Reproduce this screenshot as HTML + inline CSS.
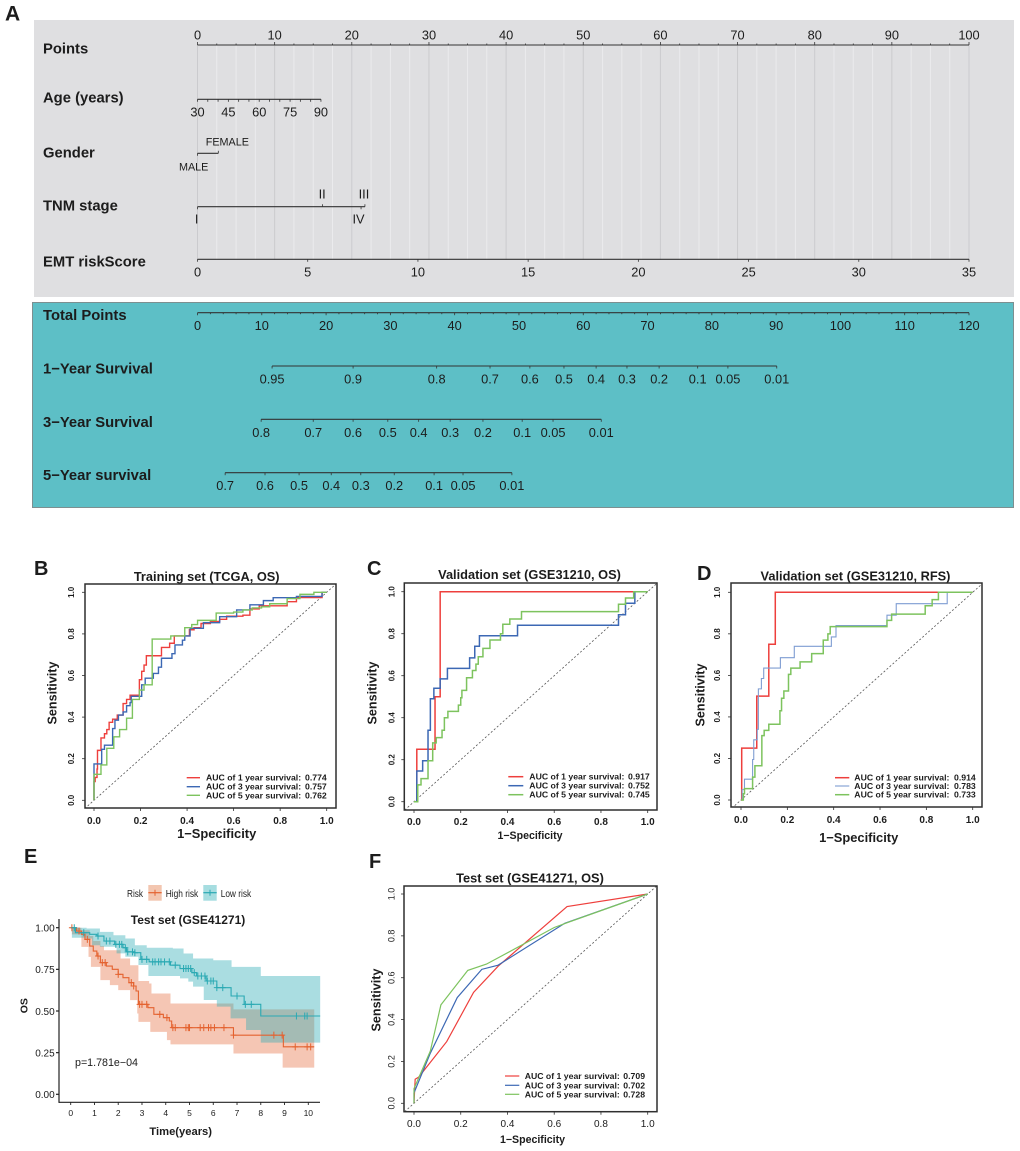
<!DOCTYPE html>
<html lang="en">
<head>
<meta charset="utf-8">
<title>Nomogram, ROC and survival figure</title>
<style>
html,body{margin:0;padding:0;background:#fff;width:1020px;height:1151px;overflow:hidden;}
svg{display:block;font-family:"Liberation Sans",Arial,sans-serif;filter:blur(0.3px);}
text{fill:#1c1c1c;}
</style>
</head>
<body>
<svg id="figure" xmlns="http://www.w3.org/2000/svg" width="1020" height="1151" viewBox="0 0 1020 1151">
  <rect x="0" y="0" width="1020" height="1151" fill="#ffffff"/>

  <g id="panelA">
    <rect x="34" y="20" width="980" height="277" fill="#dfdfe1"/>
    <rect x="32.5" y="302.5" width="981" height="205" fill="#5dbfc6" stroke="#7d8f90" stroke-width="1"/>
    <text x="5" y="20.5" font-size="21" font-weight="bold" fill="#000">A</text>
    <g font-size="14.8" font-weight="bold">
      <text x="43" y="53.3">Points</text>
      <text x="43" y="102.7">Age (years)</text>
      <text x="43" y="157.3">Gender</text>
      <text x="43" y="210.7">TNM stage</text>
      <text x="43" y="266.7">EMT riskScore</text>
      <text x="43" y="320">Total Points</text>
      <text x="43" y="373.7">1−Year Survival</text>
      <text x="43" y="427">3−Year Survival</text>
      <text x="43" y="480">5−Year survival</text>
    </g>
    <g id="nomogramMarks"></g>
  </g>

  <g id="panelB">
    <text x="34" y="575" font-size="20" font-weight="bold" fill="#000">B</text>
    <text x="206.7" y="581" font-size="12.8" font-weight="bold" text-anchor="middle">Training set (TCGA, OS)</text>
    <text x="216.7" y="838" font-size="12.9" font-weight="bold" text-anchor="middle">1−Specificity</text>
    <text transform="translate(56.5,693) rotate(-90)" font-size="12.6" font-weight="bold" text-anchor="middle">Sensitivity</text>
  </g>
  <g id="panelC">
    <text x="367" y="575" font-size="20" font-weight="bold" fill="#000">C</text>
    <text x="529.5" y="579" font-size="12.8" font-weight="bold" text-anchor="middle">Validation set (GSE31210, OS)</text>
    <text x="530" y="839" font-size="10.6" font-weight="bold" text-anchor="middle">1−Specificity</text>
    <text transform="translate(376.5,693) rotate(-90)" font-size="12.6" font-weight="bold" text-anchor="middle">Sensitivity</text>
  </g>
  <g id="panelD">
    <text x="697" y="580" font-size="20" font-weight="bold" fill="#000">D</text>
    <text x="855.5" y="580.7" font-size="12.8" font-weight="bold" text-anchor="middle">Validation set (GSE31210, RFS)</text>
    <text x="858.7" y="842" font-size="12.9" font-weight="bold" text-anchor="middle">1−Specificity</text>
    <text transform="translate(704.5,695) rotate(-90)" font-size="12.6" font-weight="bold" text-anchor="middle">Sensitivity</text>
  </g>
  <g id="panelF">
    <text x="369" y="868" font-size="20" font-weight="bold" fill="#000">F</text>
    <text x="530" y="882.7" font-size="12.8" font-weight="bold" text-anchor="middle">Test set (GSE41271, OS)</text>
    <text x="532.5" y="1143" font-size="10.6" font-weight="bold" text-anchor="middle">1−Specificity</text>
    <text transform="translate(380.5,1000) rotate(-90)" font-size="12.6" font-weight="bold" text-anchor="middle">Sensitivity</text>
  </g>

  <g id="panelE">
    <text x="24" y="863" font-size="20" font-weight="bold" fill="#000">E</text>
    <text x="188" y="924" font-size="12" font-weight="bold" text-anchor="middle">Test set (GSE41271)</text>
    <text x="180.7" y="1135" font-size="11.2" font-weight="bold" text-anchor="middle">Time(years)</text>
    <text transform="translate(27.5,1005.7) rotate(-90)" font-size="10.5" font-weight="bold" text-anchor="middle">OS</text>
    <text x="75" y="1066" font-size="10.7">p=1.781e−04</text>
    <text x="127" y="897" font-size="10" textLength="16" lengthAdjust="spacingAndGlyphs">Risk</text>
    <g>
      <rect x="148.3" y="885" width="13.4" height="15.7" fill="#f3c6b0"/>
      <line x1="148.3" x2="161.7" y1="892.7" y2="892.7" stroke="#e4622f" stroke-width="1.2"/>
      <line x1="155" x2="155" y1="889.7" y2="895.7" stroke="#e4622f" stroke-width="1"/>
      <text x="165.7" y="897" font-size="10" textLength="32.5" lengthAdjust="spacingAndGlyphs">High risk</text>
    </g>
    <g>
      <rect x="203.3" y="885" width="13.4" height="15.7" fill="#a6dde0"/>
      <line x1="203.3" x2="216.7" y1="892.7" y2="892.7" stroke="#2aa9b3" stroke-width="1.2"/>
      <line x1="210" x2="210" y1="889.7" y2="895.7" stroke="#2aa9b3" stroke-width="1"/>
      <text x="220.7" y="897" font-size="10" textLength="30.5" lengthAdjust="spacingAndGlyphs">Low risk</text>
    </g>
  </g>
</svg>

<script>
/* ---------- Nomogram data (positions expressed in nomogram "points") ---------- */
const pointsLabels = [0,10,20,30,40,50,60,70,80,90,100];
const pointsMinorStep = [2.5];
const ageLabels = [30,45,60,75,90];
const ageMinorValues = [30,35,40,45,50,55,60,65,70,75,80,85,90];
const agePointsAt90 = [16];
const genderLabels = ['MALE','FEMALE'];
const genderPoints = [0,2.7];
const tnmLabels = ['I','II','III','IV'];
const tnmPoints = [0,16.2,21.7,21.2];
const emtLabels = [0,5,10,15,20,25,30,35];
const totalLabels = [0,10,20,30,40,50,60,70,80,90,100,110,120];
const year1Labels = ['0.95','0.9','0.8','0.7','0.6','0.5','0.4','0.3','0.2','0.1','0.05','0.01'];
const year1TotalPoints = [11.6,24.2,37.2,45.5,51.7,57.0,62.0,66.8,71.8,77.8,82.5,90.1];
const year3Labels = ['0.8','0.7','0.6','0.5','0.4','0.3','0.2','0.1','0.05','0.01'];
const year3TotalPoints = [9.9,18.0,24.2,29.6,34.4,39.3,44.4,50.5,55.3,62.8];
const year5Labels = ['0.7','0.6','0.5','0.4','0.3','0.2','0.1','0.05','0.01'];
const year5TotalPoints = [4.3,10.5,15.8,20.8,25.4,30.6,36.8,41.3,48.9];

/* ---------- ROC data: step corners (fpr, tpr) ---------- */
const rocTicks = [0,0.2,0.4,0.6,0.8,1];
const rocLegendLabels = ['AUC of 1 year survival:','AUC of 3 year survival:','AUC of 5 year survival:'];

const bRedFpr = [0,0,0.005,0.013,0.015,0.03,0.045,0.055,0.065,0.08,0.1,0.125,0.14,0.155,0.195,0.205,0.215,0.225,0.29,0.325,0.345,0.41,0.43,0.46,0.5,0.54,0.57,0.64,0.67,0.71,0.83,0.87,0.98,1];
const bRedTpr = [0,0.09,0.11,0.15,0.24,0.30,0.32,0.34,0.375,0.39,0.41,0.465,0.485,0.505,0.58,0.62,0.65,0.695,0.735,0.755,0.79,0.82,0.83,0.85,0.86,0.87,0.885,0.89,0.92,0.935,0.955,0.975,1,1];
const bBlueFpr = [0,0,0.033,0.045,0.08,0.09,0.105,0.125,0.14,0.155,0.16,0.205,0.22,0.255,0.277,0.29,0.335,0.348,0.38,0.39,0.413,0.47,0.54,0.613,0.67,0.728,0.77,0.87,0.98,1];
const bBlueTpr = [0,0.175,0.245,0.265,0.345,0.385,0.41,0.425,0.455,0.47,0.50,0.555,0.587,0.61,0.64,0.683,0.705,0.747,0.77,0.79,0.827,0.854,0.883,0.915,0.94,0.96,0.974,0.98,1,1];
const bGreenFpr = [0,0,0.03,0.055,0.085,0.11,0.14,0.165,0.195,0.215,0.25,0.33,0.39,0.42,0.445,0.525,0.6,0.64,0.68,0.72,0.755,0.83,0.885,0.945,1];
const bGreenTpr = [0,0.125,0.17,0.25,0.305,0.34,0.395,0.485,0.53,0.555,0.775,0.79,0.83,0.845,0.865,0.90,0.905,0.915,0.925,0.93,0.945,0.97,0.99,1,1];
const bAuc = ['0.774','0.757','0.762'];

const cRedFpr = [0,0.012,0.09,0.112,1];
const cRedTpr = [0,0.25,0.5,1,1];
const cBlueFpr = [0,0.012,0.037,0.06,0.07,0.085,0.112,0.143,0.238,0.26,0.28,0.443,0.875,0.905,0.945,1];
const cBlueTpr = [0,0.146,0.195,0.34,0.49,0.54,0.585,0.635,0.685,0.74,0.79,0.84,0.89,0.945,1,1];
const cGreenFpr = [0,0.016,0.03,0.06,0.08,0.095,0.12,0.13,0.145,0.19,0.2,0.205,0.225,0.25,0.265,0.275,0.295,0.325,0.37,0.38,0.41,0.46,0.875,0.905,0.94,1];
const cGreenTpr = [0,0.08,0.11,0.195,0.28,0.305,0.34,0.40,0.43,0.46,0.495,0.53,0.59,0.625,0.655,0.69,0.73,0.77,0.80,0.845,0.87,0.905,0.94,0.97,1,1];
const cAuc = ['0.917','0.752','0.745'];

const dRedFpr = [0,0.003,0.068,0.12,0.148,1];
const dRedTpr = [0,0.25,0.5,0.75,1,1];
const dBlueFpr = [0,0.005,0.015,0.05,0.055,0.07,0.075,0.088,0.098,0.17,0.23,0.39,0.41,0.63,0.67,0.89,1];
const dBlueTpr = [0,0.05,0.10,0.195,0.29,0.34,0.535,0.585,0.635,0.685,0.74,0.785,0.84,0.89,0.945,1,1];
const dGreenFpr = [0,0.01,0.015,0.05,0.06,0.09,0.1,0.12,0.168,0.175,0.185,0.205,0.215,0.255,0.305,0.355,0.375,0.385,0.63,0.65,0.795,0.825,0.852,1];
const dGreenTpr = [0,0.03,0.055,0.11,0.165,0.31,0.335,0.365,0.43,0.49,0.525,0.605,0.635,0.665,0.705,0.77,0.80,0.835,0.865,0.895,0.935,0.965,1,1];
const dAuc = ['0.914','0.783','0.733'];

const fRedFpr = [0,0.005,0.02,0.14,0.255,0.36,0.655,1];
const fRedTpr = [0,0.115,0.125,0.295,0.53,0.655,0.94,1];
const fBlueFpr = [0,0,0.07,0.185,0.29,0.36,0.645,1];
const fBlueTpr = [0,0.05,0.24,0.505,0.64,0.66,0.86,1];
const fGreenFpr = [0,0,0.07,0.115,0.23,0.31,0.6,0.66,1];
const fGreenTpr = [0,0.07,0.25,0.47,0.635,0.665,0.84,0.865,1];
const fAuc = ['0.709','0.702','0.728'];

/* ---------- Kaplan-Meier data ---------- */
const kmTimeTicks = [0,1,2,3,4,5,6,7,8,9,10];
const kmSurvTicks = ['0.00','0.25','0.50','0.75','1.00'];

const highTimes = [0,0.25,0.45,0.6,0.8,0.95,1.1,1.25,1.5,1.75,2.0,2.2,2.45,2.65,2.75,2.85,3.25,3.5,3.9,4.15,4.25,6.85,8.95,10.25];
const highSurv = [1.0,0.98,0.96,0.93,0.89,0.86,0.83,0.79,0.77,0.75,0.72,0.70,0.67,0.65,0.62,0.54,0.52,0.48,0.46,0.44,0.40,0.355,0.285,0.285];
const highCensor = [0.05,0.35,0.7,1.15,1.33,1.45,2.0,2.55,2.65,2.9,3.0,3.2,3.75,4.05,4.3,4.4,4.85,4.95,5.0,5.45,5.6,5.8,5.9,6.05,6.45,6.85,8.55,8.9,9.45,9.95,10.1];
const highUpperTimes = [0,0.45,0.8,0.95,1.25,1.4,2.1,2.5,2.85,3.3,3.4,4.2,6.85,10.25];
const highUpper = [1.0,0.985,0.95,0.92,0.89,0.865,0.815,0.775,0.68,0.665,0.605,0.545,0.51,0.51];
const highLowerTimes = [0,0.05,0.45,0.75,0.85,1.25,1.65,2.0,2.5,2.8,2.85,3.35,4.05,4.2,6.85,8.92,10.25];
const highLower = [1.0,0.96,0.885,0.825,0.765,0.685,0.655,0.625,0.565,0.485,0.435,0.375,0.325,0.30,0.245,0.16,0.16];

const lowTimes = [0,0.2,0.8,1.1,1.4,1.85,2.2,2.35,2.7,2.95,3.3,4.2,4.6,5.1,5.3,5.7,6.15,6.75,7.3,8.0,10.5];
const lowSurv = [1.0,0.97,0.96,0.95,0.92,0.90,0.88,0.855,0.85,0.81,0.795,0.775,0.755,0.73,0.71,0.68,0.64,0.59,0.54,0.47,0.47];
const lowCensor = [0.15,0.55,1.15,1.5,1.65,1.9,2.05,2.15,2.3,2.4,2.6,2.7,3.0,3.2,3.45,3.55,3.7,3.8,3.95,4.15,4.4,4.75,4.85,4.95,5.05,5.2,5.35,5.5,5.65,5.75,5.9,6.0,6.15,6.4,7.0,7.35,7.6,9.5,9.85,9.95];
const lowUpperTimes = [0,0.67,1.23,1.8,2.3,2.7,3.2,4.3,4.75,5.15,6.0,6.77,8.0,10.5];
const lowUpper = [1.0,0.995,0.975,0.955,0.935,0.895,0.88,0.875,0.845,0.815,0.805,0.765,0.71,0.71];
const lowLowerTimes = [0,0.05,0.67,0.9,1.23,1.93,2.3,2.85,3.27,4.6,4.95,5.15,5.6,6.15,6.73,7.38,8.0,10.5];
const lowLower = [1.0,0.94,0.935,0.895,0.886,0.846,0.826,0.776,0.71,0.696,0.676,0.646,0.566,0.526,0.456,0.386,0.31,0.31];

/* ---------- Drawing helpers ---------- */
const NS = 'http://www.w3.org/2000/svg';
function scale(d0, d1, r0, r1) { return function (v) { return r0 + (v - d0) / (d1 - d0) * (r1 - r0); }; }
function shape(tag, parent, props) {
  const node = document.createElementNS(NS, tag);
  for (const k in props) node.setAttribute(k, props[k]);
  parent.appendChild(node);
  return node;
}
function words(parent, str, props) {
  const node = shape('text', parent, props);
  node.textContent = str;
  return node;
}
function seg(parent, x1, y1, x2, y2, stroke, width) {
  return shape('line', parent, { x1: x1, y1: y1, x2: x2, y2: y2, stroke: stroke, 'stroke-width': width });
}

/* ---------- Nomogram ---------- */
const nomo = document.getElementById('nomogramMarks');
const pointsX = scale(0, 100, 197.5, 969);
const totalX = scale(0, 120, 197.5, 969);
const AX = '#333333';

(function drawGrid() {
  const maxPoints = pointsLabels[pointsLabels.length - 1];
  for (let p = 0; p <= maxPoints + 1e-6; p += pointsMinorStep[0]) {
    const major = p % 10 === 0;
    const gl = seg(nomo, pointsX(p), 45, pointsX(p), 260, major ? '#cbcbce' : '#ebebed', 1);
    
    
  }
})();

function axisLine(y, x0, x1, width) {
  const l = seg(nomo, x0, y, x1, y, AX, width || 1.1);
  
  
  return l;
}
function axisTick(x, y, len) {
  const t = seg(nomo, x, y, x, y + len, AX, 0.8);
  
  
  return t;
}
function axisLabel(x, y, str, size) {
  const t = words(nomo, str, { x: x, y: y, 'font-size': size || 12.8, 'text-anchor': 'middle' });
  
  
  return t;
}

/* Points row */
axisLine(45, pointsX(0), pointsX(100));
for (let p = 0; p <= 100; p += pointsMinorStep[0]) axisTick(pointsX(p), 45, p % 10 === 0 ? -3 : -1.5);
pointsLabels.forEach(function (v) { axisLabel(pointsX(v), 39.3, String(v)); });

/* Age row */
const ageX = function (a) { return pointsX((a - ageLabels[0]) / (ageLabels[ageLabels.length - 1] - ageLabels[0]) * agePointsAt90[0]); };
axisLine(99.3, ageX(30), ageX(90));
ageMinorValues.forEach(function (a) { axisTick(ageX(a), 99.3, 2.5); });
ageLabels.forEach(function (a) { axisLabel(ageX(a), 116.7, String(a)); });

/* Gender row */
axisLine(153.3, pointsX(genderPoints[0]), pointsX(genderPoints[1]));
axisTick(pointsX(genderPoints[0]), 153.3, 2.5);
axisTick(pointsX(genderPoints[1]), 153.3, -2.5);
axisLabel(pointsX(genderPoints[0]) - 3.8, 170.7, genderLabels[0], 10.8);
axisLabel(pointsX(genderPoints[1]) + 9, 145.7, genderLabels[1], 10.8);

/* TNM row */
axisLine(206.7, pointsX(tnmPoints[0]), pointsX(tnmPoints[2]));
axisTick(pointsX(tnmPoints[0]), 206.7, 2.5);
axisTick(pointsX(tnmPoints[1]), 206.7, -2.5);
axisTick(pointsX(tnmPoints[2]), 206.7, -2.5);
axisTick(pointsX(tnmPoints[3]), 206.7, 2.5);
axisLabel(pointsX(tnmPoints[0]) - 0.8, 223.3, tnmLabels[0]);
axisLabel(pointsX(tnmPoints[1]) - 0.3, 198.7, tnmLabels[1]);
axisLabel(pointsX(tnmPoints[2]) - 1, 198.7, tnmLabels[2]);
axisLabel(pointsX(tnmPoints[3]) - 2.5, 223.3, tnmLabels[3]);

/* EMT riskScore row */
const emtX = scale(0, 35, 197.5, 969);
axisLine(259.3, emtX(0), emtX(35));
emtLabels.forEach(function (v) {
  axisTick(emtX(v), 259.3, 2.5);
  axisLabel(emtX(v), 276.7, String(v));
});

/* Total Points row */
axisLine(312.7, totalX(0), totalX(120));
for (let v = 0; v <= 120; v += 2) axisTick(totalX(v), 312.7, v % 10 === 0 ? 2.5 : 1.5);
totalLabels.forEach(function (v) { axisLabel(totalX(v), 330, String(v)); });

/* Survival rows */
function survivalRow(y, labelY, labels, pts) {
  axisLine(y, totalX(pts[0]), totalX(pts[pts.length - 1]));
  pts.forEach(function (p, i) {
    axisTick(totalX(p), y, 2.5);
    axisLabel(totalX(p), labelY, labels[i]);
  });
}
survivalRow(366, 383.7, year1Labels, year1TotalPoints);
survivalRow(419.3, 437, year3Labels, year3TotalPoints);
survivalRow(472.7, 490, year5Labels, year5TotalPoints);

/* ---------- ROC panels ---------- */
const RED = '#ee3f3c', BLUE = '#3c68b4', GREEN = '#7dc35e';

function stepPath(xs, ys, xf, yf) {
  let d = 'M' + xf(xs[0]).toFixed(2) + ' ' + yf(ys[0]).toFixed(2);
  for (let i = 1; i < xs.length; i++) d += 'H' + xf(xs[i]).toFixed(2) + 'V' + yf(ys[i]).toFixed(2);
  return d;
}
function linePath(xs, ys, xf, yf) {
  let d = '';
  for (let i = 0; i < xs.length; i++) d += (i ? 'L' : 'M') + xf(xs[i]).toFixed(2) + ' ' + yf(ys[i]).toFixed(2);
  return d;
}

function rocPanel(id, cfg, curves, auc) {
  const g = document.getElementById(id);
  const X = scale(0, 1, cfg.x0, cfg.x1);
  const Y = scale(0, 1, cfg.y0, cfg.y1);
  const b = cfg.box;
  const defs = shape('clipPath', g, { id: id + 'Clip' });
  shape('rect', defs, { x: b[0], y: b[1], width: b[2] - b[0], height: b[3] - b[1] });

  const diag = seg(g, X(-0.04), Y(-0.04), X(1.04), Y(1.04), '#555555', 0.8);
  diag.setAttribute('stroke-dasharray', '2 2');
  diag.setAttribute('clip-path', 'url(#' + id + 'Clip)');
  
  

  curves.forEach(function (c, i) {
    const d = cfg.straight ? linePath(c.x, c.y, X, Y) : stepPath(c.x, c.y, X, Y);
    const p = shape('path', g, { d: d, fill: 'none', stroke: c.color, 'stroke-width': c.width || 1.4 });
    
    
  });

  const frame = shape('rect', g, { x: b[0], y: b[1], width: b[2] - b[0], height: b[3] - b[1], fill: 'none', stroke: '#2f2f2f', 'stroke-width': 1.5 });
  
  

  rocTicks.forEach(function (v) {
    const tx = seg(g, X(v), b[3], X(v), b[3] + 3, '#2f2f2f', 0.8);
    
    
    const ty = seg(g, b[0] - 3, Y(v), b[0], Y(v), '#2f2f2f', 0.8);
    
    
    const lx = words(g, v.toFixed(1), { x: X(v), y: cfg.xLabelY, 'font-size': 10, 'font-weight': cfg.xBold === false ? 'normal' : 'bold', 'text-anchor': 'middle' });
    
    
    const ly = words(g, v.toFixed(1), { transform: 'translate(' + cfg.yLabelX + ',' + Y(v) + ') rotate(-90)', 'font-size': cfg.yFont || 8, 'font-weight': cfg.xBold === false ? 'normal' : 'bold', 'text-anchor': 'middle' });
    
    
  });

  curves.forEach(function (c, i) {
    const ry = cfg.legendRows[i];
    const key = seg(g, cfg.legendLine[0], ry, cfg.legendLine[1], ry, c.color, c.width || 1.4);
    
    
    const name = words(g, rocLegendLabels[i], { x: cfg.legendText, y: ry + 3, 'font-size': 8.7, 'font-weight': 'bold' });
    
    
    const val = words(g, auc[i], { x: cfg.legendValue, y: ry + 3, 'font-size': 8.7, 'font-weight': 'bold' });
    
    
  });
}

rocPanel('panelB',
  { x0: 94, x1: 326.7, y0: 800.3, y1: 592.3, box: [85, 584, 336, 808], xLabelY: 824, yLabelX: 74,
    legendRows: [777.7, 786.7, 795.3], legendLine: [186.7, 200], legendText: 206, legendValue: 305 },
  [{ x: bRedFpr, y: bRedTpr, color: RED }, { x: bBlueFpr, y: bBlueTpr, color: BLUE }, { x: bGreenFpr, y: bGreenTpr, color: GREEN }], bAuc);

rocPanel('panelC',
  { x0: 414, x1: 647.7, y0: 801.7, y1: 591.7, box: [404.3, 583, 657, 810], xLabelY: 825, yLabelX: 394.5,
    legendRows: [776.7, 785.7, 794.7], legendLine: [508.3, 523.3], legendText: 529.3, legendValue: 628 },
  [{ x: cRedFpr, y: cRedTpr, color: RED, width: 1.5 }, { x: cBlueFpr, y: cBlueTpr, color: BLUE, width: 1.5 }, { x: cGreenFpr, y: cGreenTpr, color: GREEN, width: 1.5 }], cAuc);

rocPanel('panelD',
  { x0: 741, x1: 972.7, y0: 800, y1: 592.3, box: [731, 583, 982, 807], xLabelY: 823, yLabelX: 720,
    legendRows: [777.7, 786, 794.7], legendLine: [835, 849.3], legendText: 854.3, legendValue: 954 },
  [{ x: dRedFpr, y: dRedTpr, color: RED, width: 1.5 }, { x: dBlueFpr, y: dBlueTpr, color: '#7f9dd2', width: 1.1 }, { x: dGreenFpr, y: dGreenTpr, color: GREEN, width: 1.5 }], dAuc);

rocPanel('panelF',
  { x0: 414, x1: 647.7, y0: 1103.3, y1: 894, box: [404, 886, 657, 1111.7], xLabelY: 1127, yLabelX: 394.7, yFont: 9, xBold: false, straight: true,
    legendRows: [1076, 1085.3, 1094.3], legendLine: [505, 519.3], legendText: 524.7, legendValue: 623.3 },
  [{ x: fRedFpr, y: fRedTpr, color: RED, width: 1.2 }, { x: fBlueFpr, y: fBlueTpr, color: BLUE, width: 1.2 }, { x: fGreenFpr, y: fGreenTpr, color: GREEN, width: 1.2 }], fAuc);

/* ---------- Kaplan-Meier panel ---------- */
(function drawKm() {
  const g = document.getElementById('panelE');
  const T = scale(0, 10, 70.7, 308.3);
  const S = scale(0, 1, 1094.3, 927.7);
  const ORANGE = '#e4622f', TEAL = '#2aa9b3';

  function survivalAt(times, surv, t) {
    let s = surv[0];
    for (let i = 0; i < times.length; i++) { if (times[i] <= t) s = surv[i]; }
    return s;
  }
  function bandPath(ut, u, lt, l) {
    let d = stepPath(ut, u, T, S);
    const n = lt.length - 1;
    d += 'L' + T(lt[n]).toFixed(2) + ' ' + S(l[n]).toFixed(2);
    for (let i = n; i > 0; i--) d += 'V' + S(l[i - 1]).toFixed(2) + 'H' + T(lt[i - 1]).toFixed(2);
    return d + 'Z';
  }

  const highBand = shape('path', g, { d: bandPath(highUpperTimes, highUpper, highLowerTimes, highLower), fill: ORANGE, 'fill-opacity': 0.36 });
  
  
  const lowBand = shape('path', g, { d: bandPath(lowUpperTimes, lowUpper, lowLowerTimes, lowLower), fill: TEAL, 'fill-opacity': 0.4 });
  
  

  const highLine = shape('path', g, { d: stepPath(highTimes, highSurv, T, S), fill: 'none', stroke: ORANGE, 'stroke-width': 1.1 });
  
  
  const lowLine = shape('path', g, { d: stepPath(lowTimes, lowSurv, T, S), fill: 'none', stroke: TEAL, 'stroke-width': 1.1 });
  
  

  highCensor.forEach(function (t) {
    const y = S(survivalAt(highTimes, highSurv, t));
    const m = shape('path', g, { d: 'M' + (T(t) - 3) + ' ' + y + 'h6M' + T(t) + ' ' + (y - 3.5) + 'v7', fill: 'none', stroke: ORANGE, 'stroke-width': 1 });
    
    
  });
  lowCensor.forEach(function (t) {
    const y = S(survivalAt(lowTimes, lowSurv, t));
    const m = shape('path', g, { d: 'M' + (T(t) - 3) + ' ' + y + 'h6M' + T(t) + ' ' + (y - 3.5) + 'v7', fill: 'none', stroke: TEAL, 'stroke-width': 1 });
    
    
  });

  const xAxis = seg(g, 59, 1102.3, 320, 1102.3, '#222222', 1.2);
  
  
  const yAxis = seg(g, 59, 919, 59, 1102.9, '#222222', 1.2);
  
  

  kmTimeTicks.forEach(function (v) {
    const t = seg(g, T(v), 1102.3, T(v), 1105, '#222222', 0.9);
    
    
    const l = words(g, String(v), { x: T(v), y: 1116, 'font-size': 8.5, 'text-anchor': 'middle' });
    
    
  });
  kmSurvTicks.forEach(function (v) {
    const t = seg(g, 56, S(+v), 59, S(+v), '#222222', 1.2);
    
    
    const l = words(g, v, { x: 54.7, y: S(+v) + 3.8, 'font-size': 10, 'text-anchor': 'end' });
    
    
  });
})();
</script>
</body>
</html>
